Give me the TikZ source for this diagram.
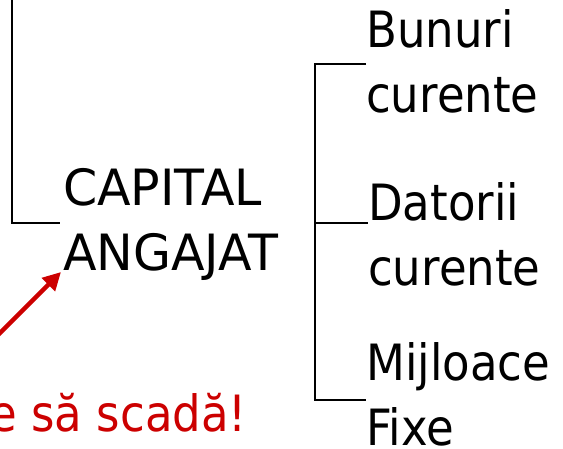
\documentclass[tikz,border=0pt]{standalone}
\usepackage{fontspec}
\setmainfont{DejaVu Sans}[FakeStretch=0.9]
\newfontfamily\capfont{DejaVu Sans}[FakeStretch=0.98]
\usetikzlibrary{arrows.meta}
\definecolor{alertred}{HTML}{CC0000}
\begin{document}
\begin{tikzpicture}[x=1pt,y=-1pt,
  lbl/.style={inner sep=0pt,anchor=base west,align=left,font=\fontsize{50}{65}\selectfont},
  conn/.style={line width=2pt,black},
  alertarrow/.style={alertred,line width=4.5pt,-{Triangle[length=18pt,width=18pt]}}]
\useasboundingbox (0,0) rectangle (563,448);
\clip (0,0) rectangle (563,448);
\node[lbl,font=\capfont\fontsize{50}{65}\selectfont] (cap) at (63,270) {CAPITAL\\ANGAJAT};
\node[lbl] (bun) at (366,112) {Bunuri\\curente};
\node[lbl] (dat) at (368,285) {Datorii\\curente};
\node[lbl] (mij) at (366,445) {Mijloace\\Fixe};
\node[inner sep=0pt,anchor=base east,text=alertred,font=\fontsize{50}{65}\selectfont] (note) at (247,431) {e să scadă!};
\coordinate (topl) at (12,-5);
\coordinate (capin) at (60,223);
\coordinate (brtop) at (315,64);
\coordinate (brbot) at (315,400);
\draw[conn] (topl) |- (capin);
\draw[conn] (bun.west |- brtop) -- (brtop) -- (brbot) -- (mij.west |- brbot);
\draw[conn] (315,223) -- (dat.west |- capin);
\coordinate (arrstart) at (-10,343);
\coordinate (arrtip) at (61,272);
\draw[alertarrow] (arrstart) -- (arrtip);
\end{tikzpicture}
\end{document}
